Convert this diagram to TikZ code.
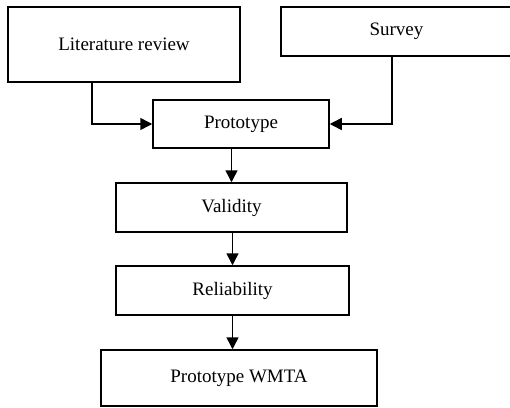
\documentclass[tikz,border=0pt]{standalone}
\usepackage{fontspec}
\setmainfont{Liberation Serif}
\usetikzlibrary{arrows.meta}
\begin{document}
\begin{tikzpicture}[x=1pt,y=-1pt,
  box/.style={draw=black,line width=1.5pt,rectangle,inner sep=0pt,font=\fontsize{19}{21}\selectfont},
  conn/.style={draw=black,line width=1.5pt,-{Triangle[length=12pt,width=12pt]}}]
\useasboundingbox (0,0) rectangle (510,407);
\clip (0,0) rectangle (510,407);
\fill[white] (0,0) rectangle (510,407);
\node[box,minimum width=232pt,minimum height=75pt] (lit) at (124,44.5) {Literature review};
\node[box,minimum width=231pt,minimum height=49pt] (survey) at (396.5,31.5) {Survey};
\node[box,minimum width=176pt,minimum height=48pt] (proto) at (241,124) {Prototype};
\node[box,minimum width=231pt,minimum height=49pt] (valid) at (231.5,207.5) {Validity};
\node[box,minimum width=233pt,minimum height=49pt] (rel) at (232.5,290.5) {Reliability};
\node[box,minimum width=276pt,minimum height=56pt] (wmta) at (239,378) {Prototype WMTA};
\coordinate (lx) at (92,0);
\coordinate (sx) at (392,0);
\draw[conn] (lit.south -| lx) |- (proto.west);
\draw[conn] (survey.south -| sx) |- (proto.east);
\draw[conn] (proto.south -| valid.north) -- (valid.north);
\draw[conn] (valid.south -| rel.north) -- (rel.north);
\draw[conn] (rel.south) -- (rel.south |- wmta.north);
\end{tikzpicture}
\end{document}
